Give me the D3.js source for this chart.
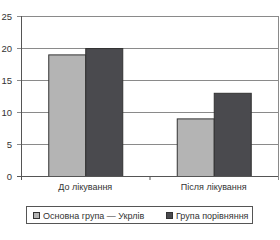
<!DOCTYPE html>
<html><head><meta charset="utf-8">
<script src="https://cdn.jsdelivr.net/npm/d3@7"></script>
<style>body{margin:0;background:#fff}svg{display:block}</style>
</head><body>
<script>
const categories = ["До лікування", "Після лікування"];
const seriesNames = ["Основна група — Укрлів", "Група порівняння"];
const mainGroup = [19, 9];
const comparisonGroup = [20, 13];
const yTicks = [0, 5, 10, 15, 20, 25];
const colors = ["#b4b4b4", "#4a4a4e"];

const W = 280, H = 240;
const m = {left: 21, right: 2, top: 16, bottom: 64};
const svg = d3.select("body").append("svg").attr("width", W).attr("height", H)
  .style("font-family", "'Liberation Sans', Arial, sans-serif");

const x0 = d3.scaleBand().domain(categories).range([m.left, W - m.right]);
const x1 = d3.scaleBand().domain([0, 1]).range([0, 74]);
const y = d3.scaleLinear().domain([0, 25]).range([H - m.bottom, m.top]);

// gridlines
svg.append("g").selectAll("line").data(yTicks).join("line")
  .attr("x1", m.left - 4).attr("x2", W - m.right)
  .attr("y1", d => y(d) + 0.5).attr("y2", d => y(d) + 0.5)
  .attr("stroke", "#8a8a8a").attr("stroke-width", 1);
// right border
svg.append("line").attr("x1", W - m.right + 0.5).attr("x2", W - m.right + 0.5)
  .attr("y1", y(25)).attr("y2", y(0) + 4).attr("stroke", "#8a8a8a");

// y labels
svg.append("g").selectAll("text").data(yTicks).join("text")
  .attr("x", 12).attr("y", d => y(d) + 3.5).attr("text-anchor", "end")
  .attr("font-size", 9.5).attr("fill", "#333").text(d => d);

// bars
const data = categories.map((c, i) => ({c, vals: [mainGroup[i], comparisonGroup[i]]}));
const g = svg.append("g");
data.forEach(d => {
  const cx = x0(d.c) + x0.bandwidth() / 2 - 37;
  d.vals.forEach((v, j) => {
    g.append("rect")
      .attr("x", cx + x1(j) + 0.5).attr("y", y(v) + 0.5)
      .attr("width", x1.bandwidth()).attr("height", y(0) - y(v))
      .attr("fill", colors[j]).attr("stroke", "#333").attr("stroke-width", 1);
  });
});

// axes lines
svg.append("line").attr("x1", m.left + 0.5).attr("x2", m.left + 0.5)
  .attr("y1", y(25)).attr("y2", y(0) + 4).attr("stroke", "#555");
svg.append("line").attr("x1", m.left - 4).attr("x2", W - m.right)
  .attr("y1", y(0) + 0.5).attr("y2", y(0) + 0.5).attr("stroke", "#555");
// category ticks
const bounds = [x0(categories[0]), x0(categories[1]), x0(categories[1]) + x0.bandwidth()];
svg.append("g").selectAll("line").data(bounds.slice(1, 2)).join("line")
  .attr("x1", d => d + 0.5).attr("x2", d => d + 0.5)
  .attr("y1", y(0)).attr("y2", y(0) + 4).attr("stroke", "#555");

// x labels
svg.append("g").selectAll("text").data(categories).join("text")
  .attr("x", d => x0(d) + x0.bandwidth() / 2).attr("y", y(0) + 14)
  .attr("text-anchor", "middle").attr("font-size", 9).attr("fill", "#333").text(d => d);

// legend
const lg = svg.append("g");
lg.append("rect").attr("x", 26.5).attr("y", 206.5).attr("width", 226).attr("height", 17)
  .attr("fill", "#fff").attr("stroke", "#555");
const lx = [33, 166];
seriesNames.forEach((s, i) => {
  lg.append("rect").attr("x", lx[i] + 0.5).attr("y", 212.5).attr("width", 6).attr("height", 6)
    .attr("fill", colors[i]).attr("stroke", "#333");
  lg.append("text").attr("x", lx[i] + 10).attr("y", 219).attr("font-size", 9)
    .attr("fill", "#333").text(s);
});
</script>
</body></html>
